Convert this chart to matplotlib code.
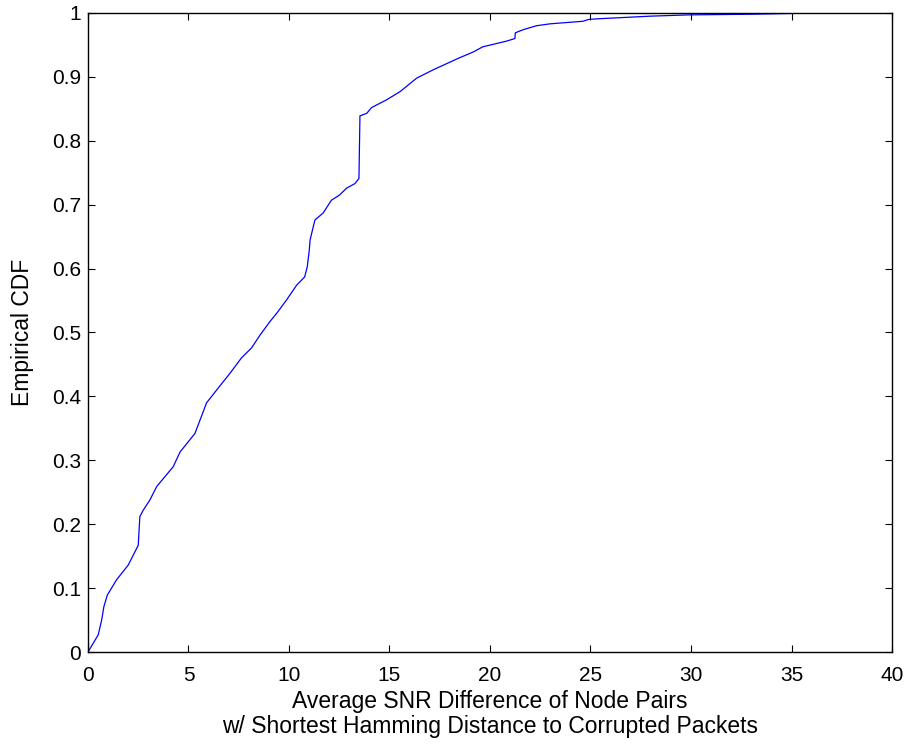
import matplotlib
matplotlib.use("Agg")
import matplotlib.pyplot as plt

plt.rcParams['font.family'] = ['Liberation Sans', 'DejaVu Sans']

snr_diff = [0.0, 0.51, 0.68, 0.79, 0.96, 1.42, 2.0, 2.5, 2.58, 2.75, 3.08, 3.42, 4.24, 4.58,
            5.32, 5.9, 6.4, 7.06, 7.63, 8.14, 8.56, 9.05, 9.46, 9.88, 10.38, 10.78, 10.91, 11.01,
            11.05, 11.29, 11.7, 12.11, 12.51, 12.87, 13.28, 13.48, 13.53, 13.87, 14.11, 14.85,
            15.53, 16.35, 17.17, 18.42, 19.17, 19.64, 20.83, 21.24, 21.26, 21.67, 22.31, 22.99,
            24.62, 24.93, 25.44, 27.98, 29.91, 32.96, 35.4, 35.8]
cdf = [0.0, 0.027, 0.05, 0.071, 0.089, 0.113, 0.136, 0.167, 0.212, 0.222, 0.238, 0.259, 0.29, 0.313,
       0.342, 0.39, 0.41, 0.436, 0.46, 0.476, 0.496, 0.517, 0.533, 0.551, 0.574, 0.587, 0.603, 0.629,
       0.645, 0.676, 0.687, 0.707, 0.715, 0.726, 0.733, 0.741, 0.839, 0.843, 0.852, 0.864,
       0.877, 0.898, 0.911, 0.929, 0.939, 0.947, 0.956, 0.96, 0.969, 0.974, 0.98, 0.983,
       0.987, 0.99, 0.991, 0.995, 0.997, 0.998, 0.9995, 1.0]

x_ticks = [0, 5, 10, 15, 20, 25, 30, 35, 40]
y_ticks = [0, 0.1, 0.2, 0.3, 0.4, 0.5, 0.6, 0.7, 0.8, 0.9, 1]
y_labels = ['0', '0.1', '0.2', '0.3', '0.4', '0.5', '0.6', '0.7', '0.8', '0.9', '1']

fig = plt.figure(figsize=(9.09, 7.45), dpi=100)
ax = fig.add_axes([0.0968, 0.1248, 0.8845, 0.8578])
ax.plot(snr_diff, cdf, color='#0000ff', linewidth=0.9)
ax.set_xlim(0, 40)
ax.set_ylim(0, 1)
ax.set_xticks(x_ticks)
ax.set_xticklabels([str(t) for t in x_ticks])
ax.set_yticks(y_ticks)
ax.set_yticklabels(y_labels)
ax.tick_params(direction='in', length=5, width=0.8, top=True, right=True, labelsize=15)
ax.tick_params(axis='x', pad=10)
ax.tick_params(axis='y', pad=5)
for s in ax.spines.values():
    s.set_linewidth(1.0)
ax.set_xlabel('Average SNR Difference of Node Pairs\nw/ Shortest Hamming Distance to Corrupted Packets',
              fontsize=16.5, linespacing=1.1)
ax.xaxis.set_label_coords(0.5, -0.059)
ax.set_ylabel('Empirical CDF', fontsize=16.5)
ax.yaxis.set_label_coords(-0.067, 0.5)
fig.savefig('out.png', dpi=100)
